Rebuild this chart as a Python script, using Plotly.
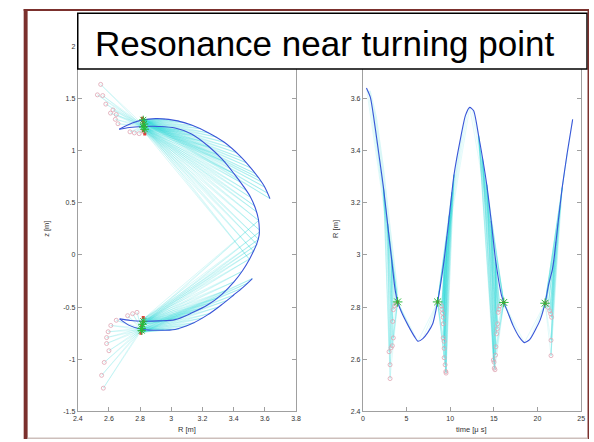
import plotly.graph_objects as go

# Slide positions (reference pixels) are converted to paper coordinates.
PW, PH = 594, 442
FW, FH = PW, PH


def px(X):
    return X / FW


def py(Y):
    return 1 - Y / FH


# ---------------- Left panel: orbit in the R-z plane ----------------
# upper arc: start point -> upper turning point
orbA_R = [3.633, 3.60, 3.56, 3.507, 3.44, 3.34, 3.24, 3.13, 3.04, 2.983, 2.9, 2.82, 2.75, 2.666]
orbA_z = [0.54, 0.65, 0.74, 0.84, 0.95, 1.08, 1.17, 1.245, 1.285, 1.30, 1.307, 1.295, 1.265, 1.205]
# "C" part: upper turning point -> lower turning point
orbB_R = [2.666, 2.731, 2.815, 2.92, 3.0245, 3.1296, 3.2346, 3.3245, 3.4019, 3.4597, 3.5069, 3.5384,
          3.5591, 3.5648, 3.5635, 3.5478, 3.5277, 3.5025, 3.4566, 3.4019, 3.3245, 3.2346, 3.1296,
          3.0245, 2.92, 2.815, 2.7386, 2.6686]
orbB_z = [1.205, 1.222, 1.231, 1.232, 1.217, 1.160, 1.047, 0.920, 0.780, 0.665, 0.559, 0.453,
          0.340, 0.245, 0.189, 0.104, 0.038, -0.038, -0.151, -0.258, -0.377, -0.478, -0.557,
          -0.620, -0.632, -0.635, -0.628, -0.613]
# lower arc: lower turning point -> end point
orbC_R = [2.6686, 2.73, 2.815, 2.92, 3.025, 3.13, 3.235, 3.32, 3.40, 3.46, 3.52]
orbC_z = [-0.613, -0.675, -0.714, -0.722, -0.714, -0.66, -0.572, -0.48, -0.384, -0.31, -0.226]

# resonance clusters (fan anchors)
upA_R = [2.82, 2.82, 2.825]
upA_z = [1.30, 1.28, 1.26]
upB_R = [2.825, 2.82, 2.82]
upB_z = [1.24, 1.22, 1.19]
loA_R = [2.81, 2.81, 2.815]
loA_z = [-0.70, -0.72, -0.74]
loB_R = [2.815, 2.82, 2.815]
loB_z = [-0.62, -0.645, -0.67]
# fan end points read along the orbit
upA_tR = [2.92, 2.96, 3.0, 3.05, 3.09, 3.14, 3.19, 3.24, 3.29, 3.34, 3.38, 3.42, 3.45, 3.48, 3.51,
          3.54, 3.56, 3.58, 3.60, 3.62, 3.633]
upA_tz = [1.304, 1.302, 1.295, 1.285, 1.27, 1.24, 1.21, 1.17, 1.13, 1.08, 1.03, 0.98, 0.93, 0.885,
          0.835, 0.78, 0.74, 0.70, 0.65, 0.59, 0.54]
upB_tR = [2.95, 3.0, 3.05, 3.1, 3.15, 3.2, 3.25, 3.3, 3.35, 3.40, 3.44, 3.48, 3.51, 3.535, 3.55,
          3.56, 3.565, 3.56, 3.55, 3.53, 3.50]
upB_tz = [1.23, 1.222, 1.20, 1.18, 1.145, 1.09, 1.03, 0.96, 0.89, 0.78, 0.70, 0.62, 0.55, 0.47,
          0.41, 0.33, 0.24, 0.15, 0.10, 0.03, -0.04]
loA_tR = [2.95, 3.0, 3.05, 3.1, 3.15, 3.2, 3.25, 3.3, 3.35, 3.40, 3.45, 3.49, 3.52]
loA_tz = [-0.72, -0.716, -0.71, -0.68, -0.65, -0.605, -0.56, -0.50, -0.44, -0.384, -0.32, -0.27, -0.226]
loB_tR = [2.95, 3.0, 3.05, 3.1, 3.15, 3.2, 3.25, 3.3, 3.35, 3.40, 3.45, 3.5, 3.53, 3.55, 3.56,
          3.565, 3.56]
loB_tz = [-0.632, -0.624, -0.605, -0.58, -0.545, -0.51, -0.46, -0.41, -0.34, -0.258, -0.16, -0.04,
          0.04, 0.10, 0.15, 0.22, 0.33]

# pink circles
ucirc_R = [2.547, 2.526, 2.56, 2.58, 2.61, 2.626, 2.647, 2.641, 2.658, 2.735, 2.763, 2.794, 2.826]
ucirc_z = [1.635, 1.535, 1.528, 1.446, 1.36, 1.39, 1.346, 1.30, 1.258, 1.18, 1.17, 1.163, 1.18]
lcirc_R = [2.564, 2.553, 2.57, 2.60, 2.585, 2.585, 2.595, 2.612, 2.647, 2.72, 2.752, 2.78]
lcirc_z = [-1.277, -1.154, -1.03, -0.918, -0.849, -0.792, -0.736, -0.676, -0.626, -0.582, -0.563, -0.55]
# green stars / red marks
star_R = [2.82, 2.825, 2.82, 2.83, 2.82, 2.815, 2.81, 2.81]
star_z = [1.295, 1.255, 1.225, 1.205, -0.635, -0.665, -0.705, -0.725]
red_R = [2.815, 2.82, 2.825, 2.82, 2.83, 2.82, 2.82, 2.81, 2.81, 2.805]
red_z = [1.31, 1.27, 1.24, 1.19, 1.16, -0.60, -0.64, -0.68, -0.72, -0.75]

# ---------------- Right panel: R versus time ----------------
t_orb = [0.41, 0.86, 1.43, 1.9, 2.36, 2.83, 3.3, 3.68, 3.98, 4.43, 5.18, 5.93, 6.31, 6.87, 7.43,
         8.0, 8.56, 8.93, 9.31, 9.9, 10.44, 11.18, 11.75, 12.24, 12.69, 13.25, 14.19, 14.7, 15.2,
         15.88, 16.14, 16.6, 17.19, 17.9, 18.5, 19.1, 19.82, 20.3, 20.87, 21.3, 21.7, 21.88,
         22.35, 22.83, 23.4, 24.03]
R_orb = [3.64, 3.604, 3.484, 3.37, 3.258, 3.12, 2.981, 2.87, 2.82, 2.78, 2.73, 2.686, 2.669,
         2.679, 2.702, 2.736, 2.82, 2.893, 2.981, 3.15, 3.308, 3.446, 3.535, 3.566, 3.553, 3.459,
         3.27, 3.13, 2.981, 2.845, 2.818, 2.78, 2.73, 2.686, 2.664, 2.675, 2.717, 2.75, 2.815,
         2.89, 2.943, 2.981, 3.12, 3.258, 3.39, 3.52]
# resonance points (stars) in time
tstar = [3.98, 8.56, 16.14, 20.87]
Rstar = [2.82, 2.82, 2.818, 2.815]
# branches of the time trace used as fan end points
br1_t = [0.41, 0.6, 0.86, 1.1, 1.43, 1.9, 2.36, 2.83, 3.3]
br1_R = [3.64, 3.63, 3.604, 3.55, 3.484, 3.37, 3.258, 3.12, 2.981]
u1l_t = [4.43, 4.8, 5.18, 5.55, 5.93, 6.31]
u1l_R = [2.78, 2.755, 2.73, 2.707, 2.686, 2.669]
u1r_t = [6.31, 6.87, 7.43, 8.0, 8.3]
u1r_R = [2.669, 2.679, 2.702, 2.736, 2.77]
br2_t = [9.31, 9.6, 9.9, 10.2, 10.44, 10.8, 11.18, 11.5, 11.75, 12.0, 12.24]
br2_R = [2.981, 3.07, 3.15, 3.24, 3.308, 3.38, 3.446, 3.50, 3.535, 3.555, 3.566]
br3_t = [12.24, 12.5, 12.69, 13.0, 13.25, 13.7, 14.19, 14.7, 15.2]
br3_R = [3.566, 3.56, 3.553, 3.51, 3.459, 3.37, 3.27, 3.13, 2.981]
u2l_t = [16.6, 16.9, 17.19, 17.55, 17.9, 18.5]
u2l_R = [2.78, 2.755, 2.73, 2.707, 2.686, 2.664]
u2r_t = [18.5, 19.1, 19.82, 20.3, 20.6]
u2r_R = [2.664, 2.675, 2.717, 2.75, 2.78]
br4_t = [21.88, 22.1, 22.35, 22.6, 22.83, 23.1, 23.4, 23.7, 24.03]
br4_R = [2.981, 3.05, 3.12, 3.19, 3.258, 3.32, 3.39, 3.455, 3.52]
# shaded band to the right of the first branch (outline)
band1_t = [0.45, 0.9, 1.6, 2.4, 3.1, 3.7, 4.05, 3.98, 3.3, 2.83, 2.36, 1.9, 1.43, 0.86]
band1_R = [3.63, 3.63, 3.53, 3.34, 3.13, 2.97, 2.86, 2.82, 2.981, 3.12, 3.258, 3.37, 3.484, 3.604]
# pink circles in time, four groups
cA_t = [3.116, 3.116, 3.0, 3.229, 3.378, 3.49, 3.416, 3.49, 3.64, 3.79]
cA_R = [2.526, 2.579, 2.629, 2.644, 2.652, 2.682, 2.745, 2.79, 2.805, 2.811]
cB_t = [9.01, 9.05, 9.12, 9.2, 9.2, 9.2, 9.31, 9.31, 9.31, 9.42, 9.5, 9.53]
cB_R = [2.805, 2.792, 2.777, 2.761, 2.736, 2.682, 2.669, 2.642, 2.606, 2.579, 2.553, 2.547]
cC_t = [14.94, 15.02, 15.05, 15.13, 15.2, 15.24, 15.32, 15.39, 15.43, 15.5, 15.58, 15.69]
cC_R = [2.597, 2.589, 2.566, 2.56, 2.616, 2.648, 2.698, 2.717, 2.736, 2.78, 2.792, 2.805]
cD_t = [21.02, 21.2, 21.4, 21.51, 21.62, 21.55, 21.55]
cD_R = [2.818, 2.799, 2.786, 2.774, 2.761, 2.673, 2.614]

# ---------------- styles ----------------
BLUE = "#3a55d8"
CYAN = "rgba(30,215,215,0.28)"
CYAN_RT = "rgba(40,215,215,0.22)"
BAND = "rgba(170,238,238,0.45)"
PINK = "rgb(222,165,178)"
GREEN = "rgb(40,185,60)"
RED = "rgb(230,60,60)"
AX = "#a0a0a0"
FONT = "Liberation Sans, Arial"


def fan(aR, az, tR, tz):
    xs, ys = [], []
    for a, b in zip(aR, az):
        for c, d in zip(tR, tz):
            xs += [a, c, None]
            ys += [b, d, None]
    return xs, ys


fig = go.Figure()

# ---- left panel ----
fx, fy = [], []
for aR, az, tR, tz in [(upA_R, upA_z, upA_tR, upA_tz), (upB_R, upB_z, upB_tR, upB_tz),
                       (loA_R, loA_z, loA_tR, loA_tz), (loB_R, loB_z, loB_tR, loB_tz),
                       (ucirc_R, ucirc_z, upB_R[:2], upB_z[:2]),
                       (lcirc_R, lcirc_z, loA_R[:2], loA_z[:2])]:
    x, y = fan(aR, az, tR, tz)
    fx += x
    fy += y
fig.add_trace(go.Scatter(x=fx, y=fy, mode="lines", line=dict(color=CYAN, width=0.6),
                         xaxis="x", yaxis="y", hoverinfo="skip"))

for R_, z_ in [(orbA_R, orbA_z), (orbB_R, orbB_z), (orbC_R, orbC_z)]:
    fig.add_trace(go.Scatter(x=R_, y=z_, mode="lines",
                             line=dict(color=BLUE, width=1.1, shape="spline", smoothing=0.9),
                             xaxis="x", yaxis="y"))

fig.add_trace(go.Scatter(x=ucirc_R + lcirc_R, y=ucirc_z + lcirc_z, mode="markers",
                         marker=dict(symbol="circle-open", size=4, color=PINK, line=dict(width=0.8)),
                         xaxis="x", yaxis="y"))
fig.add_trace(go.Scatter(x=red_R, y=red_z, mode="markers",
                         marker=dict(symbol="square", size=3, color=RED), xaxis="x", yaxis="y"))
fig.add_trace(go.Scatter(x=star_R, y=star_z, mode="markers",
                         marker=dict(symbol="asterisk-open", size=7, color=GREEN,
                                     line=dict(width=1, color=GREEN)),
                         xaxis="x", yaxis="y"))

# ---- right panel ----
fig.add_trace(go.Scatter(x=band1_t, y=band1_R, mode="lines", fill="toself", fillcolor=BAND,
                         line=dict(width=0), xaxis="x2", yaxis="y2", hoverinfo="skip"))
gx, gy = [], []
pairs = [([tstar[0]], [Rstar[0]], br1_t, br1_R), ([tstar[0]], [Rstar[0]], u1l_t, u1l_R),
         ([tstar[1]], [Rstar[1]], u1r_t, u1r_R), ([tstar[1]], [Rstar[1]], br2_t, br2_R),
         ([tstar[2]], [Rstar[2]], br3_t, br3_R), ([tstar[2]], [Rstar[2]], u2l_t, u2l_R),
         ([tstar[3]], [Rstar[3]], u2r_t, u2r_R), ([tstar[3]], [Rstar[3]], br4_t, br4_R),
         (cA_t, cA_R, br1_t[6:], br1_R[6:]), (cB_t, cB_R, br2_t[:5], br2_R[:5]),
         (cC_t, cC_R, br3_t[4:], br3_R[4:]), (cD_t, cD_R, br4_t[:5], br4_R[:5]),
         (cA_t, cA_R, [tstar[0]], [Rstar[0]]), (cB_t, cB_R, [tstar[1]], [Rstar[1]]),
         (cC_t, cC_R, [tstar[2]], [Rstar[2]]), (cD_t, cD_R, [tstar[3]], [Rstar[3]])]
for aT, aR, tT, tR in pairs:
    x, y = fan(aT, aR, tT, tR)
    gx += x
    gy += y
fig.add_trace(go.Scatter(x=gx, y=gy, mode="lines", line=dict(color=CYAN_RT, width=0.6),
                         xaxis="x2", yaxis="y2", hoverinfo="skip"))
fig.add_trace(go.Scatter(x=t_orb, y=R_orb, mode="lines",
                         line=dict(color=BLUE, width=1.1, shape="spline", smoothing=0.6),
                         xaxis="x2", yaxis="y2"))
fig.add_trace(go.Scatter(x=cA_t + cB_t + cC_t + cD_t, y=cA_R + cB_R + cC_R + cD_R, mode="markers",
                         marker=dict(symbol="circle-open", size=4, color=PINK, line=dict(width=0.8)),
                         xaxis="x2", yaxis="y2"))
fig.add_trace(go.Scatter(x=tstar, y=Rstar, mode="markers",
                         marker=dict(symbol="square", size=3, color=RED), xaxis="x2", yaxis="y2"))
fig.add_trace(go.Scatter(x=tstar, y=Rstar, mode="markers",
                         marker=dict(symbol="asterisk-open", size=8, color=GREEN,
                                     line=dict(width=1, color=GREEN)),
                         xaxis="x2", yaxis="y2"))

# ---------------- axes ----------------
ydom = [py(414), py(43)]
common = dict(showline=True, linecolor=AX, linewidth=1, mirror="ticks", ticks="inside",
              ticklen=4, tickcolor=AX, showgrid=False, zeroline=False,
              tickfont=dict(family=FONT, size=7, color="#333"))

xt1 = [2.4, 2.6, 2.8, 3.0, 3.2, 3.4, 3.6, 3.8]
xl1 = ["2.4", "2.6", "2.8", "3", "3.2", "3.4", "3.6", "3.8"]
yt1 = [-1.5, -1, -0.5, 0, 0.5, 1, 1.5, 2]
yl1 = ["-1.5", "-1", "-0.5", "0", "0.5", "1", "1.5", "2"]
xt2 = [0, 5, 10, 15, 20, 25]
xl2 = ["0", "5", "10", "15", "20", "25"]
yt2 = [2.4, 2.6, 2.8, 3.0, 3.2, 3.4, 3.6]
yl2 = ["2.4", "2.6", "2.8", "3", "3.2", "3.4", "3.6"]

fig.update_layout(
    width=FW, height=FH, margin=dict(l=0, r=0, t=0, b=0),
    paper_bgcolor="white", plot_bgcolor="white", showlegend=False,
    xaxis=dict(domain=[px(74), px(296)], range=[2.4, 3.8], tickvals=xt1, ticktext=xl1,
               anchor="y", **common),
    yaxis=dict(domain=ydom, range=[-1.5, 2], tickvals=yt1, ticktext=yl1, anchor="x", **common),
    xaxis2=dict(domain=[px(364), px(586)], range=[0, 25], tickvals=xt2, ticktext=xl2,
                anchor="y2", **common),
    yaxis2=dict(domain=ydom, range=[2.4, 3.8], tickvals=yt2, ticktext=yl2, anchor="x2", **common),
)

lab = dict(family=FONT, size=7.5, color="#333")
c = dict(xref="paper", yref="paper", showarrow=False, xanchor="center", yanchor="middle")
ann = [
    dict(text="R [m]", x=px(185), y=py(432.5), font=lab, **c),
    dict(text="time [\u03bc s]", x=px(474), y=py(432.5), font=lab, **c),
    dict(text="z [m]", x=px(42.7), y=py(228.5), font=lab, textangle=-90, **c),
    dict(text="R [m]", x=px(336.7), y=py(228.5), font=lab, textangle=-90, **c),
    dict(text="Resonance near turning point", x=px(89), y=py(40), xref="paper", yref="paper",
         xanchor="left", yanchor="middle", showarrow=False,
         font=dict(family=FONT, size=35, color="black")),
]
fig.update_layout(annotations=ann)

MAROON = "#7b302d"


def prect(x0, y0, x1, y1, **kw):
    return dict(type="rect", xref="paper", yref="paper", x0=px(x0), x1=px(x1),
                y0=py(y1), y1=py(y0), layer="above", **kw)


shapes = [
    prect(74, 9.5, 592, 66, fillcolor="white", line=dict(color="black", width=1.5)),
    prect(19, 5, 594, 7, fillcolor=MAROON, line=dict(width=0)),
    prect(19, 5, 23, 442, fillcolor=MAROON, line=dict(width=0)),
    prect(592.5, 5, 594, 442, fillcolor=MAROON, line=dict(width=0)),
    prect(23, 440.5, 592.5, 442, fillcolor="#cdbfbb", line=dict(width=0)),
]
fig.update_layout(shapes=shapes)

# make the page exactly the figure's size (no body margin, nothing scrollable)
page_css = ("margin:0;padding:0;width:%dpx;height:%dpx;overflow:hidden;" % (PW, PH))
fix_page = ("}); document.documentElement.style.cssText='" + page_css + "'; "
            "document.body.style.cssText='" + page_css + "'; (function(){")
fig.write_html("out.html", config={"displayModeBar": False}, post_script=fix_page)
